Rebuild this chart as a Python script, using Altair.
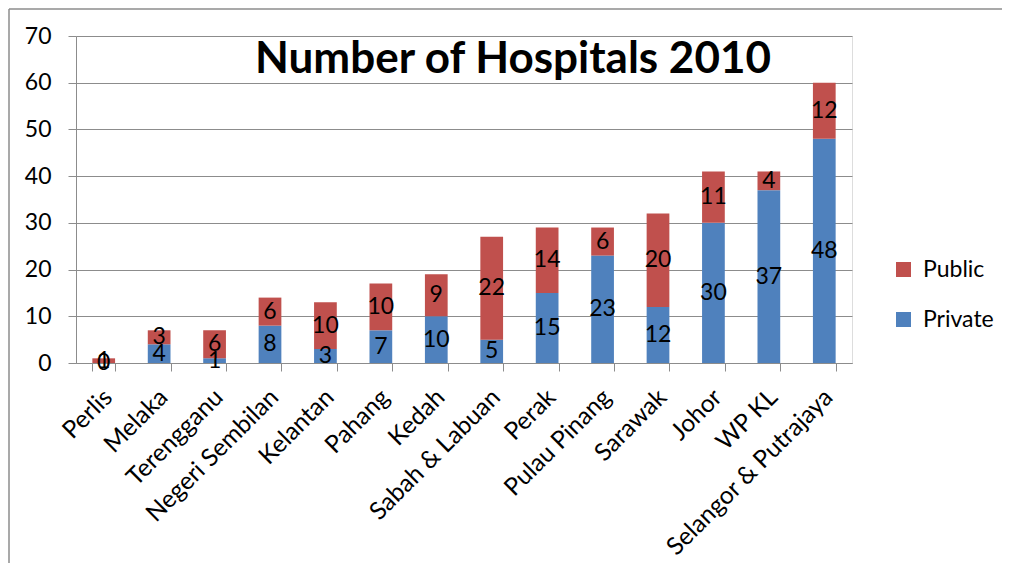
import altair as alt
import pandas as pd

states = ["Perlis", "Melaka", "Terengganu", "Negeri Sembilan", "Kelantan", "Pahang",
          "Kedah", "Sabah & Labuan", "Perak", "Pulau Pinang", "Sarawak", "Johor",
          "WP KL", "Selangor & Putrajaya"]
private = [0, 4, 1, 8, 3, 7, 10, 5, 15, 23, 12, 30, 37, 48]
public = [1, 3, 6, 6, 10, 10, 9, 22, 14, 6, 20, 11, 4, 12]
y_ticks = [0, 10, 20, 30, 40, 50, 60, 70]
title_text = "Number of Hospitals 2010"

rows = []
for s, pv, pb in zip(states, private, public):
    rows.append({"state": s, "type": "Private", "value": pv, "ord": 0})
    rows.append({"state": s, "type": "Public", "value": pb, "ord": 1})
df = pd.DataFrame(rows)

FONT = "Lato"
GRID = "#8c8c8c"
W, H = 776, 327

base = alt.Chart(df).transform_stack(
    stack="value", groupby=["state"], as_=["v0", "v1"], sort=[alt.SortField("ord")]
).transform_calculate(mid="(datum.v0 + datum.v1) / 2")

xenc = alt.X("state:N", sort=states, title=None,
             scale=alt.Scale(paddingInner=0.59, paddingOuter=0.295),
             axis=alt.Axis(labelAngle=-45, labelFontSize=24.5, labelFont=FONT, labelColor="black",
                           tickBand="extent", tickSize=8, tickColor=GRID, domainColor=GRID,
                           labelPadding=14, labelOffset=-4, labelLimit=0, labelOverlap=False,
                           grid=False))

bars = base.mark_bar().encode(
    x=xenc,
    y=alt.Y("v0:Q", title=None, scale=alt.Scale(domain=[0, 70]),
            axis=alt.Axis(values=y_ticks, labelFontSize=23, labelFont=FONT, labelColor="black",
                          tickSize=8, tickColor=GRID, domainColor=GRID, gridColor=GRID,
                          labelPadding=17)),
    y2="v1:Q",
    color=alt.Color("type:N", title=None,
                    scale=alt.Scale(domain=["Public", "Private"], range=["#C0504D", "#4F81BD"]),
                    legend=alt.Legend(orient="none", legendX=816, legendY=222, symbolType="square",
                                      symbolSize=225, symbolStrokeWidth=0, labelFontSize=23,
                                      labelFont=FONT, labelColor="black", rowPadding=26,
                                      labelOffset=8)),
)

labels = base.mark_text(fontSize=23, font=FONT, color="black", baseline="middle").encode(
    x=alt.X("state:N", sort=states),
    y=alt.Y("mid:Q"),
    text="value:Q",
)

title = alt.Chart(pd.DataFrame({"t": [title_text]})).mark_text(
    fontSize=44, font=FONT, fontWeight="bold", color="black", baseline="alphabetic", align="center"
).encode(x=alt.value(437), y=alt.value(37), text="t:N")

frame_left = alt.Chart(pd.DataFrame({"t": [0]})).mark_rule(color="#8c8c8c", strokeWidth=1.5).encode(
    x=alt.value(-67), y=alt.value(-27), y2=alt.value(H + 200))
frame_top = alt.Chart(pd.DataFrame({"t": [0]})).mark_rule(color="#8c8c8c", strokeWidth=1.5).encode(
    x=alt.value(-67), x2=alt.value(W + 150), y=alt.value(-27))

chart = alt.layer(bars, labels, title, frame_left, frame_top).properties(
    width=W, height=H,
    autosize=alt.AutoSizeParams(type="none"),
    padding={"left": 68, "top": 28, "right": 150, "bottom": 200},
).configure_view(stroke=None).configure(background="white")

chart.save("out.html", embed_options={"renderer": "svg", "actions": False})
